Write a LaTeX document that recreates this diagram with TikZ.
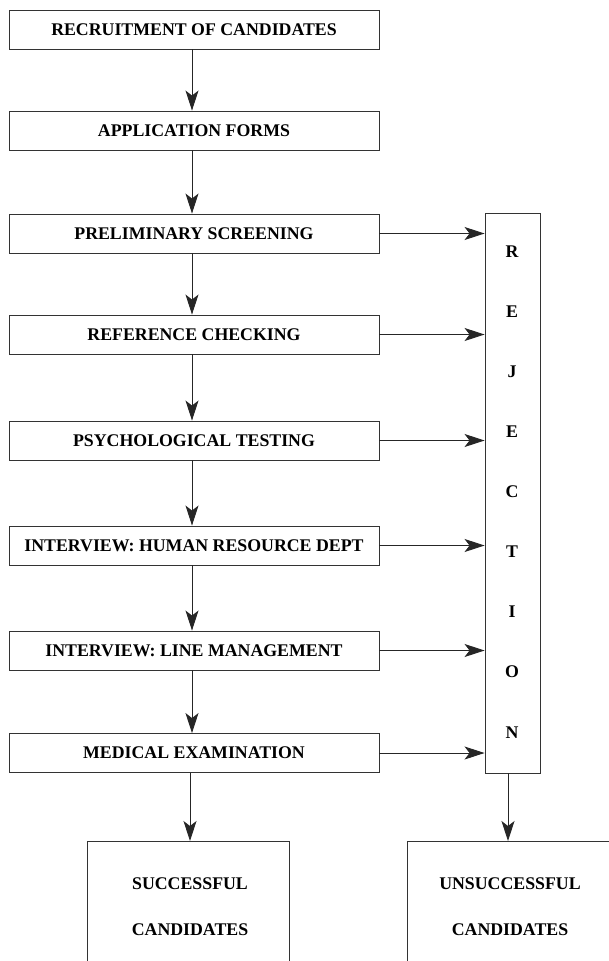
\documentclass[tikz,border=0pt]{standalone}
\usepackage{fontspec}
\setmainfont{Liberation Serif}
\usetikzlibrary{arrows.meta}
\begin{document}
\begin{tikzpicture}[x=1pt,y=-1pt,
  every node/.style={font=\fontsize{17.8}{20}\selectfont\bfseries},
  stagebox/.style={draw=black!80,line width=0.9pt,minimum width=370pt,minimum height=39pt,inner sep=0pt},
  openbox/.style={draw=black!80,line width=0.9pt,minimum height=200pt,inner sep=0pt,anchor=north},
  rejbox/.style={draw=black!80,line width=0.9pt,minimum width=55pt,minimum height=560pt,inner sep=0pt},
  letter/.style={inner sep=0pt},
  conn/.style={draw=black!85,line width=0.9pt,-{Stealth[length=20pt,width=13pt,inset=5pt]}}
]
\useasboundingbox (0,0) rectangle (609,961);
\clip (0,0) rectangle (609,961);

\node[stagebox] (b1) at (194,29.5) {RECRUITMENT OF CANDIDATES};
\node[stagebox] (b2) at (194,130.5) {APPLICATION FORMS};
\node[stagebox] (b3) at (194,233.5) {PRELIMINARY SCREENING};
\node[stagebox] (b4) at (194,334.5) {REFERENCE CHECKING};
\node[stagebox] (b5) at (194,440.5) {PSYCHOLOGICAL TESTING};
\node[stagebox] (b6) at (194,545.5) {INTERVIEW: HUMAN RESOURCE DEPT};
\node[stagebox] (b7) at (194,650.5) {INTERVIEW: LINE MANAGEMENT};
\node[stagebox] (b8) at (194,753) {MEDICAL EXAMINATION};

\node[rejbox] (rej) at (512.5,493) {};
\node[letter] (l1) at (512,252) {R};
\node[letter] (l2) at (512,312) {E};
\node[letter] (l3) at (512,372) {J};
\node[letter] (l4) at (512,432) {E};
\node[letter] (l5) at (512,492) {C};
\node[letter] (l6) at (512,552) {T};
\node[letter] (l7) at (512,612) {I};
\node[letter] (l8) at (512,672) {O};
\node[letter] (l9) at (512,733) {N};

\node[openbox,minimum width=202pt] (succ) at (188,841) {};
\node[openbox,minimum width=233pt] (unsucc) at (523.5,841) {};
\node (s1) at (190,884) {SUCCESSFUL};
\node (s2) at (190,930) {CANDIDATES};
\node (u1) at (510,884) {UNSUCCESSFUL};
\node (u2) at (510,930) {CANDIDATES};

\foreach \a/\b in {b1/b2,b2/b3,b3/b4,b4/b5,b5/b6,b6/b7,b7/b8}
  \draw[conn] ([xshift=-2pt]\a.south) -- ([xshift=-2pt]\b.north);
\foreach \a in {b3,b4,b5,b6,b7,b8}
  \draw[conn] (\a.east) -- (\a.east -| rej.west);
\draw[conn] ([xshift=-4pt]b8.south) -- ([xshift=-4pt]b8.south |- succ.north);
\draw[conn] ([xshift=-4.5pt]rej.south) -- ([xshift=-4.5pt]rej.south |- unsucc.north);
\end{tikzpicture}
\end{document}
